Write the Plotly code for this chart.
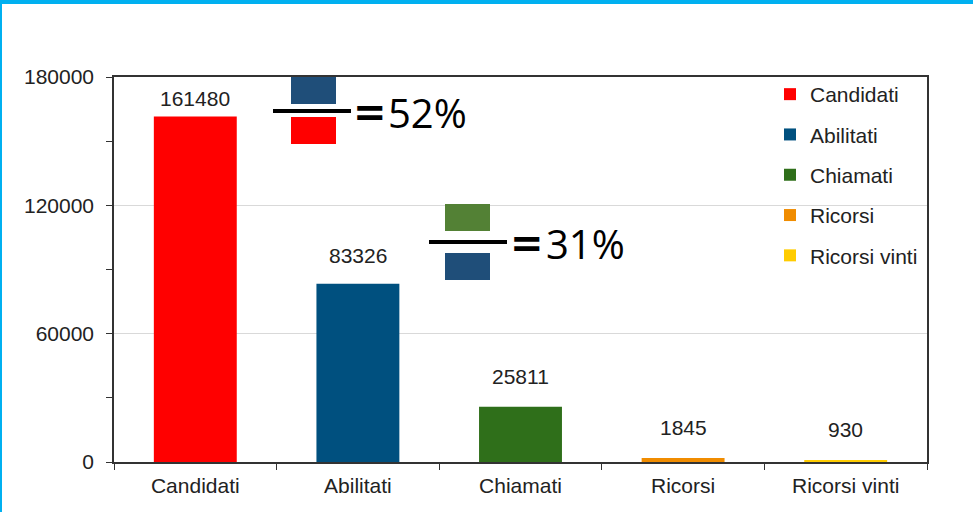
import plotly.graph_objects as go

categories = ["Candidati", "Abilitati", "Chiamati", "Ricorsi", "Ricorsi vinti"]
values = [161480, 83326, 25811, 1845, 930]
colors = ["#FF0000", "#00507F", "#2F6F1A", "#F08C00", "#FFCC00"]
label_shift = [5, 15, 17, 17, 17]
y_ticks = [0, 60000, 120000, 180000]
ratio_labels = ["52%", "31%"]

W, H = 973, 512
L, R, T, B = 114, 927, 77, 462
pw, ph = R - L, B - T


def px(x):
    return (x - L) / pw


def py(y):
    return (B - y) / ph


FONT = "Liberation Sans, Arial, sans-serif"
fig = go.Figure()
for i, (c, v, col) in enumerate(zip(categories, values, colors)):
    fig.add_trace(go.Bar(
        x=[c], y=[v], name=c, marker=dict(color=col, line=dict(width=0)),
        width=0.51, legendgroup=c, showlegend=True,
    ))
    fig.add_annotation(x=c, y=v, text=str(v), showarrow=False, yanchor="bottom",
                       yshift=label_shift[i], font=dict(family=FONT, size=21, color="#222"))

shapes = []
# cyan frame
shapes.append(dict(type="rect", xref="paper", yref="paper", x0=px(0), x1=px(W), y0=py(4), y1=py(0),
                   fillcolor="#00B0F0", line=dict(width=0), layer="above"))
shapes.append(dict(type="rect", xref="paper", yref="paper", x0=px(0), x1=px(2), y0=py(H), y1=py(0),
                   fillcolor="#00B0F0", line=dict(width=0), layer="above"))


def fraction(xl, xr, rx0, rx1, top_y0, top_y1, line_y, bot_y0, bot_y1, ctop, cbot):
    shapes.append(dict(type="rect", xref="paper", yref="paper", x0=px(rx0), x1=px(rx1),
                       y0=py(top_y1), y1=py(top_y0), fillcolor=ctop, line=dict(width=0), layer="above"))
    shapes.append(dict(type="rect", xref="paper", yref="paper", x0=px(rx0), x1=px(rx1),
                       y0=py(bot_y1), y1=py(bot_y0), fillcolor=cbot, line=dict(width=0), layer="above"))
    shapes.append(dict(type="line", xref="paper", yref="paper", x0=px(xl), x1=px(xr),
                       y0=py(line_y), y1=py(line_y), line=dict(color="black", width=4), layer="above"))


fraction(273, 351, 291, 336, 77, 104, 111, 117, 144, "#1F4E79", "#FF0000")
fraction(429, 507, 445, 490, 204, 231, 242, 253, 280, "#538135", "#1F4E79")


def ratio(eq_x, txt_x, y, txt):
    fig.add_annotation(xref="paper", yref="paper", x=px(eq_x), y=py(y), xanchor="left", yanchor="middle",
                       text="<b>=</b>", showarrow=False,
                       font=dict(family="DejaVu Sans, sans-serif", size=40, color="black"))
    fig.add_annotation(xref="paper", yref="paper", x=px(txt_x), y=py(y), xanchor="left", yanchor="middle",
                       text=txt, showarrow=False,
                       font=dict(family="Open Sans, sans-serif", size=40, color="black"))


ratio(351, 386, 112, ratio_labels[0])
ratio(508, 544, 243, ratio_labels[1])

fig.update_layout(
    width=W, height=H, margin=dict(l=L, r=W - R, t=T, b=H - B, pad=0),
    paper_bgcolor="white", plot_bgcolor="white",
    barmode="overlay", shapes=shapes,
    font=dict(family=FONT, size=21, color="#222"),
    legend=dict(x=px(770), y=py(74), xanchor="left", yanchor="top", bgcolor="rgba(0,0,0,0)",
                font=dict(family=FONT, size=21, color="#222"), traceorder="grouped",
                tracegroupgap=10, itemclick=False),
    xaxis=dict(categoryorder="array", categoryarray=categories, showline=True, linecolor="#333",
               linewidth=1.5, mirror=True, ticks="outside", tickson="boundaries", ticklen=6,
               tickcolor="#333", tickfont=dict(family=FONT, size=21, color="#222"), showgrid=False,
               ticklabelstandoff=4),
    yaxis=dict(range=[0, 180000], tickvals=y_ticks, tickformat="d", showline=True, linecolor="#333",
               linewidth=1.5, mirror=True, ticks="outside", ticklen=6, tickcolor="#333", showgrid=True,
               gridcolor="#D9D9D9", gridwidth=1, zeroline=False, ticklabelstandoff=8,
               tickfont=dict(family=FONT, size=21, color="#222"),
               minor=dict(dtick=30000, ticks="outside", ticklen=6, tickcolor="#333", showgrid=False)),
)

fig.write_html("out.html", config={"displayModeBar": False},
               post_script="document.body.style.margin='0';document.body.style.overflow='hidden';")
